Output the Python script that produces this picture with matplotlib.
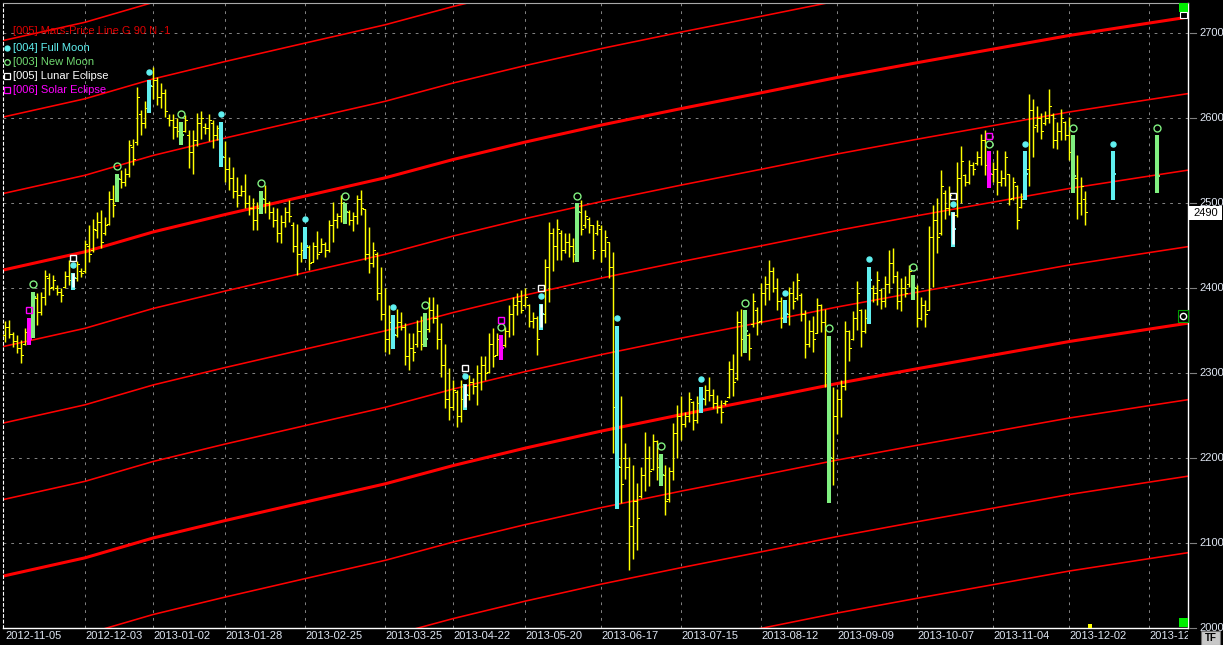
import numpy as np
import matplotlib
matplotlib.use("Agg")
import matplotlib.pyplot as plt
from matplotlib.patches import Rectangle
from matplotlib.transforms import blended_transform_factory, Bbox, TransformedBbox

plt.rcParams["font.family"] = ["Liberation Sans", "DejaVu Sans"]
plt.rcParams["lines.scale_dashes"] = False

W, H = 1223, 645

# daily OHLC bars, bar index 0 = 2012-11-05
highs = [
    2361, 2363, 2349, 2345, 2339, 2353, 2365, 2396, 2395, 2396,
    2422, 2418, 2416, 2404, 2400, 2420, 2433, 2418, 2432, 2424,
    2457, 2474, 2482, 2490, 2492, 2484, 2514, 2522, 2535, 2539,
    2541, 2574, 2576, 2637, 2610, 2620, 2645, 2660, 2649, 2641,
    2635, 2605, 2605, 2600, 2596, 2604, 2586, 2586, 2606, 2608,
    2594, 2605, 2598, 2592, 2596, 2573, 2555, 2543, 2531, 2522,
    2534, 2510, 2506, 2502, 2515, 2522, 2503, 2496, 2494, 2486,
    2496, 2504, 2478, 2476, 2455, 2472, 2451, 2455, 2467, 2459,
    2455, 2480, 2502, 2488, 2510, 2500, 2492, 2490, 2510, 2516,
    2493, 2472, 2455, 2443, 2425, 2400, 2380, 2369, 2376, 2372,
    2359, 2347, 2347, 2363, 2367, 2371, 2390, 2390, 2382, 2359,
    2335, 2306, 2292, 2280, 2292, 2288, 2298, 2294, 2310, 2320,
    2320, 2347, 2353, 2347, 2345, 2355, 2380, 2390, 2394, 2398,
    2400, 2382, 2372, 2367, 2382, 2435, 2478, 2471, 2481, 2469,
    2465, 2465, 2459, 2500, 2504, 2492, 2484, 2474, 2480, 2475,
    2469, 2455, 2443, 2356, 2273, 2218, 2202, 2192, 2171, 2190,
    2231, 2214, 2229, 2222, 2205, 2192, 2190, 2241, 2263, 2273,
    2255, 2278, 2267, 2273, 2284, 2286, 2296, 2282, 2275, 2269,
    2269, 2314, 2323, 2373, 2376, 2374, 2347, 2394, 2378, 2406,
    2414, 2433, 2425, 2412, 2390, 2386, 2402, 2408, 2418, 2394,
    2374, 2363, 2367, 2388, 2382, 2376, 2344, 2284, 2282, 2292,
    2361, 2351, 2373, 2408, 2376, 2376, 2425, 2404, 2420, 2400,
    2414, 2445, 2447, 2420, 2412, 2414, 2427, 2416, 2404, 2390,
    2386, 2473, 2498, 2506, 2539, 2516, 2520, 2490, 2549, 2567,
    2535, 2551, 2549, 2561, 2582, 2586, 2561, 2549, 2563, 2539,
    2562, 2535, 2531, 2521, 2512, 2561, 2629, 2623, 2614, 2606,
    2608, 2634, 2606, 2596, 2611, 2597, 2602, 2580, 2557, 2531,
    2514,
]
lows = [
    2337, 2341, 2331, 2324, 2312, 2333, 2333, 2341, 2357, 2369,
    2380, 2392, 2398, 2392, 2384, 2400, 2404, 2398, 2408, 2413,
    2418, 2431, 2443, 2459, 2447, 2463, 2474, 2484, 2502, 2518,
    2520, 2531, 2545, 2569, 2580, 2588, 2606, 2623, 2616, 2612,
    2602, 2591, 2576, 2578, 2569, 2584, 2541, 2535, 2567, 2576,
    2582, 2573, 2565, 2575, 2543, 2525, 2516, 2506, 2496, 2508,
    2494, 2486, 2469, 2469, 2487, 2488, 2482, 2472, 2455, 2453,
    2472, 2478, 2443, 2416, 2431, 2435, 2422, 2431, 2435, 2443,
    2437, 2443, 2455, 2471, 2478, 2476, 2474, 2467, 2476, 2486,
    2433, 2418, 2425, 2386, 2363, 2325, 2323, 2329, 2343, 2351,
    2310, 2304, 2314, 2331, 2327, 2331, 2349, 2359, 2329, 2296,
    2259, 2245, 2257, 2237, 2243, 2257, 2269, 2276, 2263, 2280,
    2292, 2300, 2308, 2321, 2316, 2331, 2343, 2345, 2369, 2371,
    2378, 2355, 2353, 2322, 2351, 2359, 2384, 2420, 2433, 2433,
    2441, 2437, 2431, 2431, 2463, 2471, 2465, 2435, 2463, 2431,
    2437, 2412, 2206, 2140, 2147, 2176, 2069, 2082, 2092, 2153,
    2161, 2167, 2186, 2174, 2168, 2133, 2149, 2175, 2200, 2222,
    2237, 2243, 2233, 2241, 2253, 2263, 2267, 2259, 2253, 2241,
    2263, 2271, 2273, 2292, 2320, 2324, 2316, 2355, 2345, 2359,
    2380, 2386, 2396, 2374, 2353, 2359, 2357, 2376, 2386, 2361,
    2318, 2331, 2325, 2347, 2349, 2284, 2147, 2169, 2229, 2249,
    2280, 2314, 2339, 2351, 2331, 2347, 2358, 2384, 2380, 2376,
    2378, 2394, 2406, 2376, 2373, 2390, 2402, 2386, 2355, 2363,
    2355, 2374, 2402, 2441, 2463, 2482, 2486, 2449, 2484, 2500,
    2520, 2523, 2533, 2545, 2545, 2533, 2518, 2525, 2510, 2520,
    2520, 2498, 2504, 2470, 2494, 2504, 2520, 2555, 2584, 2576,
    2592, 2595, 2565, 2564, 2574, 2574, 2551, 2512, 2482, 2486,
    2474,
]
opens = [
    2345, 2355, 2346, 2338, 2330, 2335, 2348, 2343, 2388, 2372,
    2390, 2412, 2402, 2400, 2396, 2402, 2415, 2408, 2412, 2420,
    2420, 2450, 2445, 2468, 2478, 2465, 2476, 2505, 2505, 2528,
    2525, 2535, 2566, 2572, 2605, 2595, 2612, 2638, 2645, 2625,
    2630, 2600, 2598, 2590, 2585, 2585, 2580, 2560, 2575, 2595,
    2590, 2588, 2595, 2580, 2588, 2555, 2540, 2530, 2515, 2510,
    2515, 2500, 2495, 2480, 2495, 2505, 2500, 2490, 2480, 2465,
    2478, 2490, 2475, 2450, 2440, 2445, 2448, 2431, 2450, 2443,
    2452, 2445, 2475, 2480, 2485, 2500, 2490, 2480, 2485, 2505,
    2493, 2440, 2430, 2440, 2395, 2370, 2340, 2360, 2345, 2360,
    2355, 2320, 2330, 2335, 2350, 2335, 2352, 2375, 2365, 2340,
    2310, 2270, 2260, 2278, 2250, 2270, 2275, 2290, 2285, 2300,
    2310, 2302, 2335, 2322, 2340, 2333, 2350, 2370, 2380, 2385,
    2380, 2380, 2362, 2365, 2355, 2370, 2425, 2465, 2450, 2465,
    2445, 2455, 2450, 2440, 2490, 2475, 2482, 2474, 2465, 2470,
    2445, 2455, 2425, 2350, 2190, 2200, 2190, 2120, 2150, 2156,
    2180, 2200, 2188, 2220, 2190, 2180, 2152, 2185, 2230, 2250,
    2240, 2250, 2266, 2245, 2265, 2270, 2280, 2275, 2265, 2260,
    2265, 2272, 2305, 2295, 2360, 2340, 2345, 2358, 2375, 2362,
    2395, 2405, 2420, 2400, 2385, 2365, 2370, 2395, 2388, 2392,
    2370, 2335, 2350, 2348, 2380, 2360, 2300, 2200, 2250, 2270,
    2285, 2350, 2340, 2365, 2375, 2350, 2365, 2400, 2395, 2398,
    2385, 2405, 2430, 2415, 2385, 2400, 2405, 2414, 2400, 2365,
    2380, 2375, 2460, 2480, 2465, 2512, 2495, 2488, 2486, 2530,
    2533, 2525, 2545, 2547, 2555, 2575, 2545, 2535, 2540, 2525,
    2530, 2534, 2506, 2520, 2496, 2505, 2540, 2610, 2592, 2600,
    2594, 2600, 2604, 2575, 2585, 2596, 2580, 2578, 2530, 2500,
    2505,
]
closes = [
    2355, 2346, 2338, 2330, 2322, 2349, 2340, 2390, 2372, 2390,
    2415, 2400, 2410, 2396, 2392, 2415, 2410, 2412, 2428, 2418,
    2452, 2440, 2470, 2478, 2455, 2475, 2505, 2498, 2528, 2525,
    2535, 2568, 2552, 2625, 2595, 2612, 2638, 2645, 2625, 2630,
    2608, 2598, 2590, 2585, 2580, 2598, 2560, 2575, 2595, 2600,
    2588, 2598, 2580, 2588, 2555, 2540, 2530, 2515, 2510, 2515,
    2500, 2495, 2480, 2495, 2505, 2500, 2490, 2480, 2465, 2478,
    2490, 2485, 2450, 2440, 2445, 2450, 2430, 2450, 2440, 2452,
    2445, 2475, 2480, 2485, 2500, 2490, 2480, 2485, 2505, 2495,
    2440, 2430, 2445, 2395, 2370, 2340, 2360, 2345, 2360, 2355,
    2320, 2330, 2325, 2350, 2335, 2340, 2375, 2365, 2340, 2310,
    2270, 2260, 2280, 2250, 2270, 2275, 2290, 2285, 2300, 2310,
    2300, 2335, 2320, 2340, 2330, 2350, 2370, 2380, 2385, 2375,
    2390, 2362, 2365, 2340, 2370, 2425, 2465, 2450, 2470, 2445,
    2455, 2450, 2440, 2490, 2470, 2485, 2475, 2445, 2475, 2445,
    2460, 2425, 2260, 2190, 2170, 2190, 2120, 2150, 2130, 2180,
    2200, 2185, 2220, 2190, 2180, 2150, 2185, 2230, 2250, 2240,
    2250, 2270, 2245, 2265, 2270, 2280, 2275, 2265, 2260, 2255,
    2267, 2305, 2290, 2360, 2340, 2350, 2330, 2385, 2360, 2395,
    2405, 2420, 2400, 2385, 2365, 2370, 2395, 2385, 2410, 2370,
    2335, 2350, 2340, 2380, 2360, 2300, 2200, 2250, 2270, 2285,
    2350, 2330, 2365, 2395, 2350, 2365, 2410, 2395, 2410, 2385,
    2405, 2430, 2415, 2385, 2400, 2395, 2420, 2400, 2365, 2380,
    2370, 2460, 2480, 2460, 2520, 2495, 2510, 2470, 2530, 2550,
    2525, 2545, 2540, 2555, 2575, 2545, 2535, 2540, 2525, 2530,
    2555, 2505, 2525, 2480, 2505, 2535, 2610, 2590, 2600, 2585,
    2600, 2615, 2575, 2585, 2600, 2580, 2560, 2532, 2500, 2520,
    2490,
]

# lunar events, as bar indices
full_moon = [17, 36, 54, 75, 97, 115, 134, 153, 174, 195, 216, 237, 255]
new_moon = [7, 28, 44, 64, 85, 105, 124, 143, 164, 185, 206, 227, 246, 267]
lunar_eclipse = [17, 115, 134, 237]
solar_eclipse = [6, 124, 246]

# projected moon bars past the last trading day
proj_x = [277, 288]
proj_kind = ["full", "new"]
proj_high = [2561, 2580]
proj_low = [2504, 2512]
proj_open = [2505, 2578]
proj_close = [2535, 2532]

# Mars longitude (cumulative degrees) at bar positions, price line = lon + offset
mars_x = [-0.55, 0, 20, 37, 55, 75, 95, 112, 130, 149, 169, 189, 208, 228, 247, 266, 286, 295.7]
mars_lon = [261.4, 262, 283, 306.3, 326.8, 348.5, 370, 391.5, 412, 432, 451.4, 470, 488,
            505.4, 521.4, 537.4, 552, 559]
mars_offsets = [1530, 1620, 1710, 1800, 1890, 1980, 2070, 2160, 2250, 2340, 2430]

tick_bars = [0, 20, 37, 55, 75, 95, 112, 130, 149, 169, 189, 208, 228, 247, 266, 286]
tick_labels = ["2012-11-05", "2012-12-03", "2013-01-02", "2013-01-28", "2013-02-25",
               "2013-03-25", "2013-04-22", "2013-05-20", "2013-06-17", "2013-07-15",
               "2013-08-12", "2013-09-09", "2013-10-07", "2013-11-04", "2013-12-02",
               "2013-12-30"]
price_levels = [2000, 2100, 2200, 2300, 2400, 2500, 2600, 2700]
last_price = 2490

YELLOW = "#ffff00"
CYAN = "#60f0f0"
GREEN = "#80f080"
MAGENTA = "#ff00ff"
RED = "#ff0000"
GRID = "#808080"
LABEL = "#dfe6f2"
GAP = 9  # marker spacing above the bar high, price points
PX = 0.72  # one pixel in points


def fx(x):
    return x / W


def fy(y):
    return 1 - y / H


fig = plt.figure(figsize=(W / 100, H / 100), dpi=100, facecolor="black")
ax = fig.add_axes([fx(3), fy(628), (1188 - 3) / W, (628 - 3) / H])
ax.set_facecolor("black")
ax.set_xlim(-0.55, 295.7)
ax.set_ylim(2000.4, 2735.6)
ax.set_xticks([])
ax.set_yticks([])
for side in ("right", "bottom"):
    ax.spines[side].set_color("white")
    ax.spines[side].set_linewidth(1.0)
ax.spines["top"].set_color("#a8a8a8")
ax.spines["top"].set_linewidth(0.8)
ax.spines["left"].set_color("white")
ax.spines["left"].set_linewidth(0.8)
ax.spines["left"].set_linestyle((0, (2, 2)))

# grid
for v in price_levels:
    ax.axhline(v, color=GRID, lw=PX, ls=(0, (2, 3.6)), zorder=1)
for t in tick_bars[1:]:
    ax.axvline(t, color=GRID, lw=PX, ls=(0, (2, 3.6)), zorder=1)

# Mars price lines
lon = np.array(mars_lon)
for off in mars_offsets:
    thick = off % 360 == 0
    ax.plot(mars_x, lon + off, color=RED, lw=2.2 if thick else 1.15,
            solid_capstyle="butt", zorder=2)

# ordinary bars
special = set(full_moon) | set(new_moon) | set(solar_eclipse)
idx = np.arange(len(highs))
hi, lo, op, cl = (np.array(a, float) for a in (highs, lows, opens, closes))
norm = np.array([i not in special for i in idx])
ax.vlines(idx[norm], lo[norm], hi[norm], colors=YELLOW, lw=1.05, zorder=3)
tick_kw = dict(colors=YELLOW, lw=PX, antialiased=False, snap=True, zorder=3)
ax.hlines(op[norm], idx[norm] - 0.45, idx[norm], **tick_kw)
ax.hlines(cl[norm], idx[norm], idx[norm] + 0.45, **tick_kw)


def moon_bar(x, h, l, o, c, color, overlay=None):
    ax.vlines(x, l, h, colors=color, lw=2.9, zorder=4)
    ax.hlines(o, x - 0.6, x, colors=color, lw=1.4, zorder=4)
    ax.hlines(c, x, x + 0.6, colors=color, lw=1.4, zorder=4)
    if overlay:
        ax.vlines(x, l + 3, h, colors=overlay, lw=1.8, zorder=4.5)


def marks(x, h, kinds):
    for k, kind in enumerate(kinds):
        y = h + GAP * (k + 1)
        if kind == "full":
            ax.plot(x, y, "o", ms=3.6, color=CYAN, mec=CYAN, zorder=5)
        elif kind == "new":
            ax.plot(x, y, "o", ms=5, mfc="none", mec=GREEN, mew=1.0, zorder=5)
        elif kind == "lunar":
            ax.plot(x, y, "s", ms=5, mfc="none", mec="white", mew=1.0, zorder=5)
        elif kind == "solar":
            ax.plot(x, y, "s", ms=5, mfc="none", mec=MAGENTA, mew=1.0, zorder=5)


for i in sorted(special):
    kinds = []
    if i in full_moon:
        kinds.append("full")
    if i in new_moon:
        kinds.append("new")
    if i in lunar_eclipse:
        kinds.append("lunar")
    if i in solar_eclipse:
        kinds.append("solar")
    if i in solar_eclipse:
        moon_bar(i, hi[i], lo[i], op[i], cl[i], MAGENTA)
    elif i in lunar_eclipse:
        moon_bar(i, hi[i], lo[i], op[i], cl[i], CYAN, overlay="white")
    elif i in full_moon:
        moon_bar(i, hi[i], lo[i], op[i], cl[i], CYAN)
    else:
        moon_bar(i, hi[i], lo[i], op[i], cl[i], GREEN)
    marks(i, hi[i], kinds)

for x, kind, h, l, o, c in zip(proj_x, proj_kind, proj_high, proj_low, proj_open, proj_close):
    moon_bar(x, h, l, o, c, CYAN if kind == "full" else GREEN)
    marks(x, h, [kind])

# right price scale
ytr = blended_transform_factory(ax.transAxes, ax.transData)
for v in price_levels:
    ax.plot([1.0015, 1.0065], [v, v], color=GRID, lw=0.8, transform=ytr, clip_on=False)
    ax.text(1.0095, v, str(v), transform=ytr, color=LABEL, fontsize=8,
            ha="left", va="center", clip_on=False)
fig.add_artist(Rectangle((fx(1189), fy(220)), 33 / W, 14 / H, transform=fig.transFigure,
                         fc="white", ec="none", zorder=10))
fig.text(fx(1193), fy(213.5), str(last_price), color="black", fontsize=8,
         ha="left", va="center", zorder=11)

# date scale, clipped at the plot's right edge
xtr = blended_transform_factory(ax.transData, fig.transFigure)
clip = TransformedBbox(Bbox([[0, 0], [1188 / W, 1]]), fig.transFigure)
for t, lab in zip(tick_bars, tick_labels):
    txt = ax.text(t, fy(636), lab, transform=xtr, color=LABEL, fontsize=8,
                  ha="left", va="center")
    txt.set_clip_on(True)
    txt.set_clip_box(clip)

# legend
fig.text(fx(13), fy(30.5), "[005] Mars-Price Line G 90 N -1", color="#e00000",
         fontsize=8, va="center", zorder=1)
legend_rows = [
    (48, "o", CYAN, CYAN, "[004] Full Moon", CYAN),
    (62, "o", "none", GREEN, "[003] New Moon", "#70d870"),
    (76, "s", "none", "white", "[005] Lunar Eclipse", "white"),
    (90, "s", "none", MAGENTA, "[006] Solar Eclipse", MAGENTA),
]
for y, m, fc, ec, lab, tc in legend_rows:
    fig.add_artist(plt.Line2D([fx(6.5)], [fy(y)], marker=m, ms=3.6 if fc != "none" else 4,
                              mfc=fc, mec=ec, mew=0.9, ls="none", transform=fig.transFigure))
    fig.text(fx(13), fy(y), lab, color=tc, fontsize=8, va="center")

# chart widgets on the right edge
for y0 in (3, 618):
    fig.add_artist(Rectangle((fx(1179), fy(y0 + 9)), 9 / W, 9 / H, transform=fig.transFigure,
                             fc="#00ee00", ec="none", zorder=10))
fig.add_artist(Rectangle((fx(1180), fy(18)), 7 / W, 6 / H, transform=fig.transFigure,
                         fc="black", ec="white", lw=0.8, zorder=10))
fig.add_artist(Rectangle((fx(1178), fy(322)), 10 / W, 12 / H, transform=fig.transFigure,
                         fc="black", ec="#00a000", lw=0.8, zorder=10))
fig.add_artist(plt.Line2D([fx(1183)], [fy(316)], marker="o", ms=4.5, mfc="none", mec="white",
                          mew=1.0, transform=fig.transFigure, zorder=11))
fig.add_artist(Rectangle((fx(1088), fy(628)), 4 / W, 4 / H, transform=fig.transFigure,
                         fc=YELLOW, ec="none", zorder=10))
fig.add_artist(Rectangle((fx(1201), fy(645)), 19 / W, 14 / H, transform=fig.transFigure,
                         fc="#c8c8c8", ec="#707070", lw=0.8, zorder=10))
fig.text(fx(1210.5), fy(638), "TF", color="black", fontsize=7, fontweight="bold",
         ha="center", va="center", zorder=11)

fig.savefig("out.png", dpi=100, facecolor="black")
